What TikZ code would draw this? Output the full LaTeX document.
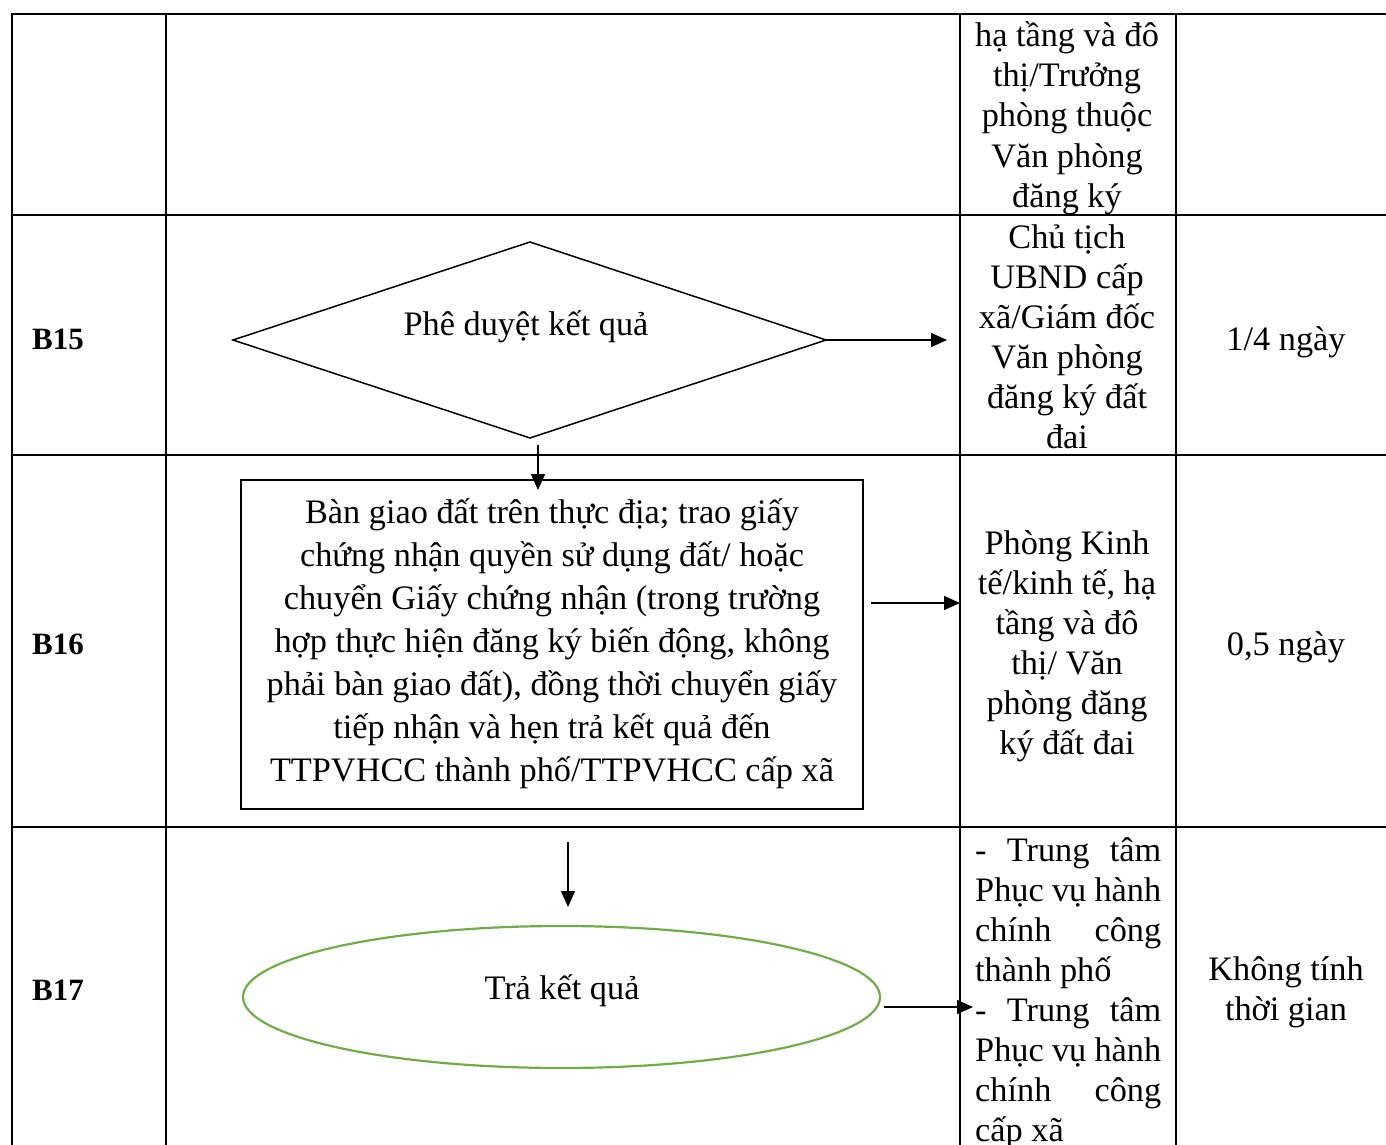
\documentclass[tikz,border=0pt]{standalone}
\usepackage{fontspec}
\setmainfont{Liberation Serif}
\usetikzlibrary{shapes.geometric,arrows.meta}
\definecolor{ovalgreen}{HTML}{70AD47}
\tikzset{
  gridline/.style={line width=2pt},
  shp/.style={draw, line width=1.5pt},
  arr/.style={line width=1.5pt, -{Triangle[length=16pt,width=14pt]}},
  txt/.style={font=\fontsize{34.3}{40}\selectfont, inner sep=0pt, anchor=base},
  lbl/.style={font=\fontsize{31}{36}\selectfont\bfseries, inner sep=0pt, anchor=base},
}
\begin{document}
\begin{tikzpicture}[x=1pt,y=-1pt]
\useasboundingbox (0,0) rectangle (1386,1145);
% table grid
\foreach \yy in {14,214.5,454.5,826.5} \draw[gridline] (10.5,\yy) -- (1386,\yy);
\foreach \xx in {11.5,166,960,1176} \draw[gridline] (\xx,13) -- (\xx,1145);
% step labels
\node[lbl] (b15) at (58,349) {B15};
\node[lbl] (b16) at (58,654) {B16};
\node[lbl] (b17) at (58,1000) {B17};
% diamond B15
\coordinate (dl) at (233,340);
\coordinate (dt) at (530,242);
\coordinate (dr) at (826,340);
\coordinate (db) at (530,438);
\draw[shp] (dl) -- (dt) -- (dr) -- (db) -- cycle;
\node[txt] (dtext) at (526,335) {Phê duyệt kết quả};
\coordinate (a15) at (947,340);
\draw[arr] (dr) -- (a15);
% box B16
\node[shp, minimum width=622pt, minimum height=329pt, inner sep=0pt] (box) at (552,644.5) {};
\foreach \t [count=\i] in {{Bàn giao đất trên thực địa; trao giấy},{chứng nhận quyền sử dụng đất/ hoặc},{chuyển Giấy chứng nhận (trong trường},{hợp thực hiện đăng ký biến động, không},{phải bàn giao đất), đồng thời chuyển giấy},{tiếp nhận và hẹn trả kết quả đến},{TTPVHCC thành phố/TTPVHCC cấp xã}}
  \node[txt] (bx\i) at (552,{480+43*\i}) {\t};
\coordinate (s16) at (538,445);
\coordinate (e16) at (538,490);
\draw[arr] (s16) -- (e16);
\coordinate (s16r) at (871,603);
\coordinate (e16r) at (960,603);
\draw[arr] (s16r) -- (e16r);
% ellipse B17
\node[ellipse, draw=ovalgreen, line width=2.2pt, minimum width=637pt, minimum height=142pt, inner sep=0pt] (oval) at (561.5,997) {};
\node[txt] (otext) at (562,999) {Trả kết quả};
\coordinate (s17) at (568,842);
\coordinate (e17) at (568,907);
\draw[arr] (s17) -- (e17);
\coordinate (s17r) at (884,1007);
\coordinate (e17r) at (973,1007);
\draw[arr] (s17r) -- (e17r);
% column 3
\foreach \t [count=\i] in {{hạ tầng và đô},{thị/Trưởng},{phòng thuộc},{Văn phòng},{đăng ký}}
  \node[txt] (ra\i) at (1067,{7+40*\i}) {\t};
\foreach \t [count=\i] in {{Chủ tịch},{UBND cấp},{xã/Giám đốc},{Văn phòng},{đăng ký đất},{đai}}
  \node[txt] (rb\i) at (1067,{208+40*\i}) {\t};
\foreach \t [count=\i] in {{Phòng Kinh},{tế/kinh tế, hạ},{tầng và đô},{thị/ Văn},{phòng đăng},{ký đất đai}}
  \node[txt] (rc\i) at (1067,{514+40*\i}) {\t};
\node[txt, anchor=base west] (rd1) at (975,861) {\makebox[186pt][s]{- Trung tâm}};
\node[txt, anchor=base west] (rd2) at (975,901) {\makebox[186pt][s]{Phục vụ hành}};
\node[txt, anchor=base west] (rd3) at (975,941) {\makebox[186pt][s]{chính công}};
\node[txt, anchor=base west] (rd4) at (975,981) {thành phố};
\node[txt, anchor=base west] (rd5) at (975,1021) {\makebox[186pt][s]{- Trung tâm}};
\node[txt, anchor=base west] (rd6) at (975,1061) {\makebox[186pt][s]{Phục vụ hành}};
\node[txt, anchor=base west] (rd7) at (975,1101) {\makebox[186pt][s]{chính công}};
\node[txt, anchor=base west] (rd8) at (975,1141) {cấp xã};
% column 4
\node[txt] (t15) at (1286,350) {1/4 ngày};
\node[txt] (t16) at (1286,655) {0,5 ngày};
\node[txt] (t17a) at (1286,980) {Không tính};
\node[txt] (t17b) at (1286,1020) {thời gian};
\end{tikzpicture}
\end{document}
